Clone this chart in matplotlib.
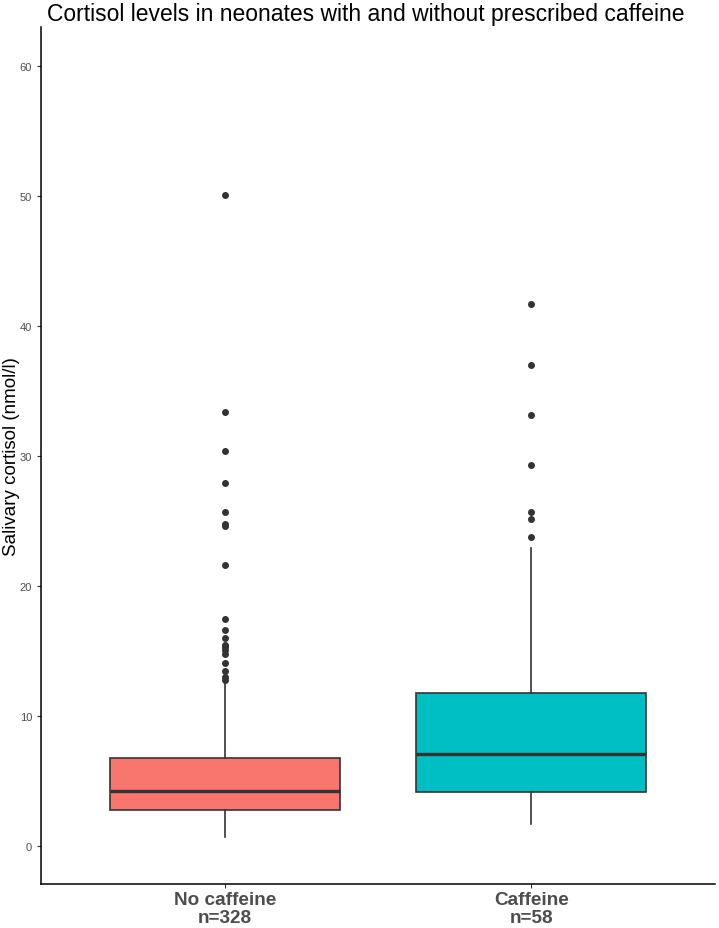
import matplotlib.pyplot as plt

plt.rcParams['font.family'] = ['Liberation Sans', 'DejaVu Sans']

groups = ['No caffeine\nn=328', 'Caffeine\nn=58']
colors = ['#F8766D', '#00BFC4']
whislo = [0.74, 1.72]
q1 = [2.82, 4.15]
med = [4.28, 7.1]
q3 = [6.79, 11.79]
whishi = [12.7, 22.9]
outliers_no = [50.1, 33.4, 30.4, 27.9, 25.7, 24.8, 24.6, 21.6, 17.5, 16.6,
               16.0, 15.5, 15.3, 15.1, 14.8, 14.1, 13.5, 13.0, 12.8]
outliers_caf = [41.7, 37.0, 33.2, 29.3, 25.7, 25.2, 23.75]
yticks = [0, 10, 20, 30, 40, 50, 60]

stats = []
for i, fl in enumerate([outliers_no, outliers_caf]):
    stats.append(dict(whislo=whislo[i], q1=q1[i], med=med[i], q3=q3[i],
                      whishi=whishi[i], fliers=fl, label=groups[i]))

fig = plt.figure(figsize=(7.19, 9.29), dpi=100)
ax = fig.add_axes([41 / 719, 1 - 885 / 929, 674 / 719, (885 - 28) / 929])

edge = '#333333'
bp = ax.bxp(stats, positions=[1, 2], widths=0.75, patch_artist=True,
            showcaps=False,
            boxprops=dict(edgecolor=edge, linewidth=1.2),
            whiskerprops=dict(color=edge, linewidth=1.2),
            medianprops=dict(color=edge, linewidth=2.4),
            flierprops=dict(marker='o', markerfacecolor=edge,
                            markeredgecolor=edge, markersize=4))
for patch, c in zip(bp['boxes'], colors):
    patch.set_facecolor(c)

ax.set_xlim(0.4, 2.6)
ax.set_ylim(-2.9, 63.0)
ax.set_yticks(yticks)
ax.tick_params(axis='y', labelsize=8, labelcolor='#4d4d4d', color='#333333', length=3)
ax.tick_params(axis='x', labelsize=13.7, labelcolor='#4d4d4d', color='#333333',
               length=3, pad=2)
for lbl in ax.get_xticklabels():
    lbl.set_fontweight('bold')
    lbl.set_linespacing(1.05)

for s in ['top', 'right']:
    ax.spines[s].set_visible(False)
for s in ['left', 'bottom']:
    ax.spines[s].set_linewidth(1.1)
    ax.spines[s].set_color('black')

ax.set_ylabel('Salivary cortisol (nmol/l)', fontsize=13.5)
ax.yaxis.set_label_coords(-21 / 674, 0.5)
fig.text(366 / 719, 1 - 14 / 929, 'Cortisol levels in neonates with and without prescribed caffeine',
         ha='center', va='center', fontsize=16.5)

fig.savefig('out.png', dpi=100)
